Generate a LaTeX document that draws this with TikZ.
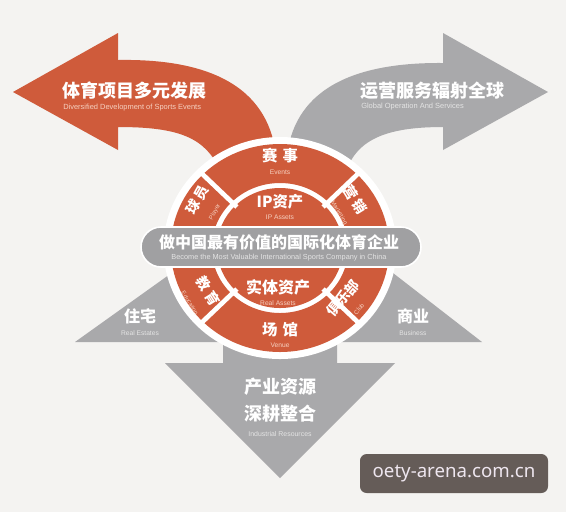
\documentclass[tikz,border=0pt]{standalone}
\usepackage{fontspec}
\setmainfont{Liberation Sans}
\newfontfamily\cjk{Noto Sans CJK SC}
\newfontfamily\wmfont{Noto Sans}
\definecolor{bg}{HTML}{F4F3F1}
\definecolor{rd}{HTML}{CF5B3B}
\definecolor{gy}{HTML}{A9A9AB}
\definecolor{pillc}{HTML}{A0A0A2}
\definecolor{wmbg}{HTML}{655C58}
\definecolor{wmfg}{HTML}{EEE6EF}
\definecolor{subr}{HTML}{F6D0C0}
\definecolor{subg}{HTML}{E4E4E4}
\begin{document}
\begin{tikzpicture}[x=0.75pt,y=-0.75pt,
  zh/.style={font=\cjk\bfseries\fontsize{#1}{#1}\selectfont, text=white, inner sep=0pt},
  en/.style={font=\fontsize{#1}{#1}\selectfont, inner sep=0pt},
  divider/.style={white, line width=3.5pt}]
% background
\fill[bg] (0,0) rectangle (566,512);
\useasboundingbox (0,0) rectangle (566,512);
% grey triangles and down arrow
\fill[gy] (75,342) -- (215,242) -- (282,242) -- (282,342) -- cycle;
\fill[gy] (482,342) -- (353,242) -- (280,242) -- (280,342) -- cycle;
\fill[gy] (223,330) -- (337,330) -- (337,363) -- (395,363) -- (280,478) -- (165,363) -- (223,363) -- cycle;
% red arrow (left)
\fill[rd] (13,92) -- (118,33) -- (118,60) .. controls (235,58) and (276,105) .. (277,170)
  -- (222,185) -- (220,170) .. controls (205,138) and (180,127) .. (118,127) -- (118,150) -- cycle;
% grey arrow (right)
\fill[gy] (548,92) -- (443,33) -- (443,63) .. controls (330,62) and (287,105) .. (286,170)
  -- (340,185) -- (345,175) .. controls (355,140) and (385,127) .. (443,127) -- (443,150) -- cycle;
% ring
\begin{scope}[shift={(280,248)}, xscale=1.05, yscale=-1]
  \fill[white] (0,0) circle (111);
  \fill[rd, even odd rule] (0,0) circle (104) (0,0) circle (65);
  \fill[rd] (0,0) circle (60);
  \foreach \a in {45,135,225,315} \draw[divider] (\a:58) -- (\a:108);
\end{scope}
% pill
\fill[pillc, draw=white, line width=1.2pt, rounded corners=15pt] (141,227) rectangle (421,267);
% texts: arrows
\node[zh=13.5, anchor=west] (t1) at (62,91) {体育项目多元发展};
\node[en=5.6, anchor=west, text=subr] (t1e) at (63,108) {Diversified Development of Sports Events};
\node[zh=13.5, anchor=west] (t2) at (360,91) {运营服务辐射全球};
\node[en=5.6, anchor=west, text=subg] (t2e) at (361,107) {Global Operation And Services};
% pill text
\node[zh=12] (p1) at (279,242) {做中国最有价值的国际化体育企业};
\node[en=5.5, text=subg] (p1e) at (279,258) {Become the Most Valuable International Sports Company in China};
% ring labels
\node[zh=11.5] (ss) at (280,156) {赛\hspace{4pt}事};
\node[en=5, text=subr] (sse) at (280,172) {Events};
\node[zh=11.5] (ip) at (280,202) {IP资产};
\node[en=5, text=subr] (ipe) at (280,217) {IP Assets};
\node[zh=12] (st) at (278,287) {实体资产};
\node[en=5, text=subr] (ste) at (278,303) {Real Assets};
\node[zh=11.5] (cg) at (280,330) {场\hspace{4pt}馆};
\node[en=5, text=subr] (cge) at (280,345) {Venue};
\node[zh=10.5, rotate=61] (qy) at (197,200) {球\hspace{2pt}员};
\node[en=4.5, text=subr, rotate=61] (qye) at (215,212) {Player};
\node[zh=10.5, rotate=-58] (yx) at (355,200) {营\hspace{2pt}销};
\node[en=4.5, text=subr, rotate=-58] (yxe) at (339,213) {Marketing};
\node[zh=10.5, rotate=-58] (jy) at (208,291) {教\hspace{2pt}育};
\node[en=4.5, text=subr, rotate=-58] (jye) at (190,303) {Education};
\node[zh=10.5, rotate=50] (jlb) at (343,298) {俱乐部};
\node[en=4.5, text=subr, rotate=50] (jlbe) at (359,309) {Club};
% grey areas
\node[zh=12] (zz) at (140,316) {住宅};
\node[en=5, text=subg] (zze) at (140,333) {Real Estates};
\node[zh=12] (sy) at (413,316) {商业};
\node[en=5, text=subg] (sye) at (413,333) {Business};
\node[zh=13.5] (cy) at (280,387) {产业资源};
\node[zh=13.5] (sg) at (280,414) {深耕整合};
\node[en=5.2, text=subg] (cye) at (280,434) {Industrial Resources};
% watermark
\fill[wmbg, rounded corners=5pt] (360,454) rectangle (548,493);
\node[font=\wmfont\fontsize{14}{14}\selectfont, text=wmfg, inner sep=0pt] (wm) at (454,474) {oety-arena.com.cn};
\end{tikzpicture}
\end{document}
